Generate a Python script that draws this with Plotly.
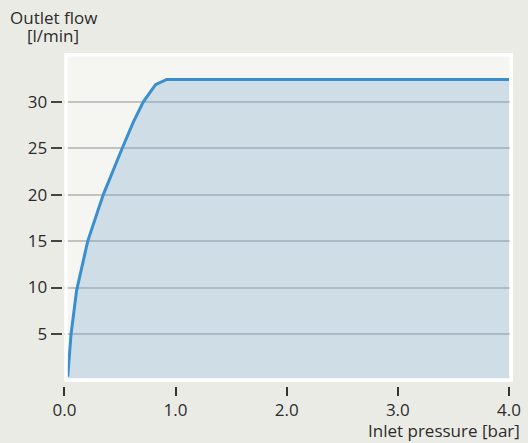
import plotly.graph_objects as go

# inlet pressure [bar] vs outlet flow [l/min]
pressure = [0.03, 0.06, 0.11, 0.21, 0.35, 0.40, 0.52, 0.62, 0.71, 0.82, 0.92, 4.0]
flow = [0.4, 5.0, 9.7, 15.0, 20.0, 21.5, 25.0, 27.8, 30.0, 31.85, 32.4, 32.4]

y_ticks = [5, 10, 15, 20, 25, 30]
x_ticks = [0, 1, 2, 3, 4]
x_labels = ["0.0", "1.0", "2.0", "3.0", "4.0"]

FONT = "Open Sans"
TXT = "#2b2b2b"

fig = go.Figure()
fig.add_trace(go.Scatter(
    x=pressure, y=flow, mode="lines",
    line=dict(color="#3a8fd0", width=3),
    fill="tozeroy", fillcolor="rgba(120,166,206,0.30)",
    hoverinfo="skip", showlegend=False,
))

W, H = 473, 350  # plotting paper size in px
x0d = 24.4 / W
y0d = 21.3 / H
fig.update_layout(
    width=528, height=443,
    margin=dict(l=40, r=15, t=53, b=40),
    paper_bgcolor="#ebebe6",
    plot_bgcolor="#f5f5f2",
    font=dict(family=FONT, size=17, color=TXT),
    xaxis=dict(
        domain=[x0d, 1], range=[0, 4.036],
        anchor="free", position=17 / H, automargin=False,
        tickvals=x_ticks, ticktext=x_labels,
        ticks="outside", ticklen=9, tickwidth=1.5, tickcolor="#333",
        showgrid=False, zeroline=False, showline=False,
    ),
    yaxis=dict(
        domain=[y0d, 1], range=[-0.14, 35.25],
        anchor="free", position=21.7 / W, automargin=False,
        tickvals=y_ticks,
        ticks="outside", ticklen=11, tickwidth=2, tickcolor="#444",
        showgrid=True, gridcolor="#c2c2c2", gridwidth=2,
        zeroline=False, showline=False,
    ),
    shapes=[dict(
        type="rect", xref="paper", yref="paper", layer="above",
        x0=x0d + 1.7 / W, x1=1 - 1.7 / W,
        y0=y0d + 1.7 / H, y1=1 - 1.7 / H,
        line=dict(color="white", width=3.4), fillcolor="rgba(0,0,0,0)",
    )],
    annotations=[
        dict(text="Outlet flow", xref="paper", yref="paper",
             x=13 / W, y=1 + 35 / H, xanchor="center", yanchor="middle",
             showarrow=False),
        dict(text="[l/min]", xref="paper", yref="paper",
             x=13 / W, y=1 + 17.5 / H, xanchor="center", yanchor="middle",
             showarrow=False),
        dict(text="Inlet pressure [bar]", xref="paper", yref="paper",
             x=1 + 9 / W, y=-27.5 / H, xanchor="right", yanchor="middle",
             showarrow=False),
    ],
)

fig.write_html(
    "out.html",
    config={"displayModeBar": False},
    post_script="document.body.style.margin='0';"
                "document.body.style.background='#ebebe6';",
)
